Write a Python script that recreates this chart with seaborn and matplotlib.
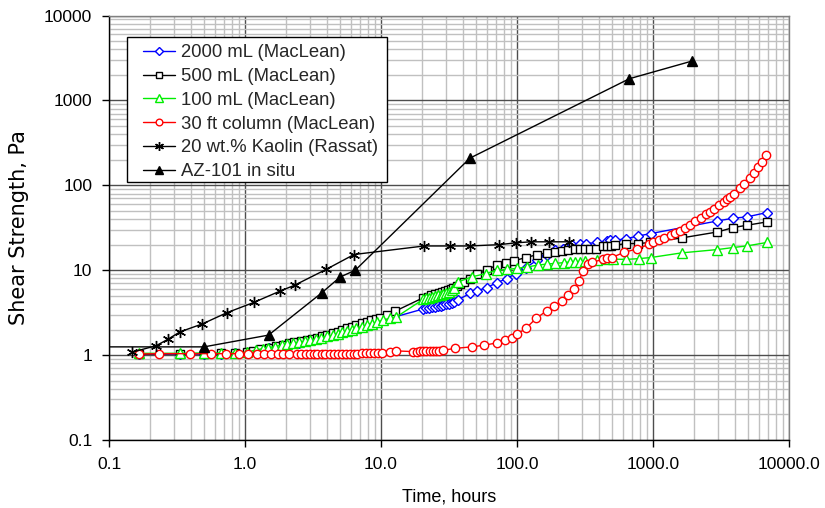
import matplotlib
matplotlib.use("Agg")
import matplotlib.pyplot as plt
import seaborn as sns
from matplotlib.patches import Rectangle
from matplotlib.ticker import LogLocator, NullFormatter

# 2000 mL (MacLean)
t_2000 = [0.167, 0.333, 0.5, 0.667, 0.84, 1.03, 1.2, 1.5, 1.8, 2.1, 2.5, 2.9, 3.3, 3.8, 4.3,
          4.9, 5.5, 6.2, 7.0, 7.8, 8.7, 9.8, 11.0, 12.5, 20.5, 21.6, 22.7, 23.8, 25.0, 26.2,
          27.5, 28.8, 30.2, 31.6, 33.1, 34.7, 37.0, 45.1, 50.6, 59.8, 71.0, 84.0, 97.5, 116,
          140, 165, 190, 218, 255, 290, 322, 385, 457, 485, 526, 633, 780, 962, 2972, 3894,
          4885, 6855]
ss_2000 = [1.03, 1.03, 1.03, 1.04, 1.05, 1.07, 1.12, 1.2, 1.27, 1.33, 1.4, 1.47, 1.54, 1.62, 1.72,
           1.85, 1.95, 2.07, 2.2, 2.33, 2.45, 2.58, 2.7, 2.8, 3.5, 3.55, 3.6, 3.65, 3.7, 3.76,
           3.82, 3.88, 3.95, 4.02, 4.1, 4.2, 4.5, 5.32, 5.7, 6.25, 7.1, 7.97, 9.14, 10.7,
           13.1, 15.3, 17.2, 18.0, 19.7, 20.2, 20.6, 21.2, 22.0, 22.5, 22.5, 23.5, 25.3, 27.0, 38.0, 41.0,
           42.4, 47.7]

# 500 mL (MacLean)
t_500 = [0.167, 0.333, 0.5, 0.667, 0.84, 1.03, 1.15, 1.3, 1.5, 1.7, 1.9, 2.1, 2.3, 2.6, 2.85,
         3.1, 3.4, 3.7, 4.0, 4.4, 4.8, 5.2, 5.6, 6.1, 6.6, 7.2, 7.85, 8.5, 9.2, 9.84, 11.0, 12.7,
         20.5, 22.0, 23.5, 25.0, 26.5, 28.0, 29.5, 31.0, 32.5, 34.0, 36.0, 38.0, 41.0, 45.1,
         50.6, 59.8, 71.0, 83.0, 95.1, 116, 140, 165, 190, 215, 238, 267, 290, 316, 344, 381,
         431, 462, 489, 526, 633, 780, 950, 1626, 2972, 3894, 4885, 6855]
ss_500 = [1.03, 1.04, 1.04, 1.05, 1.06, 1.08, 1.12, 1.17, 1.22, 1.27, 1.32, 1.37, 1.41, 1.46, 1.51,
          1.56, 1.61, 1.66, 1.72, 1.8, 1.88, 1.97, 2.06, 2.16, 2.26, 2.36, 2.47, 2.56, 2.64, 2.70, 2.95, 3.29,
          4.75, 4.9, 5.05, 5.2, 5.35, 5.5, 5.65, 5.8, 5.95, 6.15, 6.5, 6.9, 7.3, 7.9,
          8.9, 10.0, 11.5, 12.2, 12.9, 14.1, 15.2, 16.0, 16.3, 16.7, 17.2, 17.8, 17.8, 17.8, 18.0, 18.0,
          19.2, 19.2, 19.2, 19.7, 20.6, 20.6, 21.2, 24.0, 28.2, 31.8, 33.8, 37.0]

# 100 mL (MacLean)
t_100 = [0.167, 0.333, 0.5, 0.667, 0.84, 1.03, 1.2, 1.35, 1.48, 1.65, 1.86, 2.05, 2.25, 2.5, 2.75,
         3.0, 3.3, 3.6, 4.0, 4.4, 4.8, 5.2, 5.6, 6.1, 6.6, 7.2, 7.85, 8.6, 9.4, 10.4, 11.6, 13.0,
         20.5, 21.6, 22.7, 23.8, 25.0, 26.2, 27.5, 28.8, 30.2, 31.6, 33.1, 34.7, 37.0, 46.4,
         59.1, 71.0, 84.9, 99.5, 117.8, 143.5, 165, 190, 222, 245, 267, 290, 316, 385, 457, 511,
         633, 793, 962, 1626, 2972, 3894, 4885, 6855]
ss_100 = [1.05, 1.05, 1.06, 1.06, 1.06, 1.08, 1.15, 1.19, 1.22, 1.26, 1.31, 1.34, 1.38, 1.42, 1.46,
          1.5, 1.55, 1.6, 1.66, 1.72, 1.79, 1.85, 1.9, 1.98, 2.06, 2.16, 2.25, 2.34, 2.45, 2.58, 2.7, 2.82,
          4.55, 4.65, 4.75, 4.85, 4.95, 5.05, 5.15, 5.3, 5.45, 5.6, 5.8, 6.1, 7.28, 8.34,
          9.14, 10.0, 10.2, 10.5, 10.9, 11.5, 11.8, 12.0, 12.3, 12.5, 12.5, 12.5, 12.8, 13.1, 13.5, 13.5,
          13.4, 13.7, 14.1, 16.0, 17.5, 18.5, 19.3, 21.2]

# 30 ft column (MacLean)
t_30ft = [0.167, 0.234, 0.394, 0.56, 0.725, 0.9, 1.05, 1.22, 1.38, 1.55, 1.75, 1.9, 2.1, 2.4, 2.6,
          2.8, 3.0, 3.2, 3.4, 3.7, 3.9, 4.2, 4.5, 4.8, 5.2, 5.5, 5.9, 6.3, 6.7, 7.2, 7.8, 8.3,
          8.9, 9.5, 10.1, 11.6, 13.0, 17.2, 18.3, 19.4, 20.5, 21.6, 22.8, 24.0, 25.3, 26.8, 28.6,
          35, 46.4, 57.5, 71, 81.6, 92, 99.5, 116, 138, 165, 188, 213, 238, 262, 284, 307, 331,
          354, 431, 462, 497, 612, 759, 940, 1005, 1100, 1200, 1350, 1460, 1580, 1720, 1870,
          2050, 2250, 2440, 2624, 2820, 3060, 3300, 3500, 3681, 3950, 4365, 4700, 5164, 5500,
          5916, 6300, 6776]
ss_30ft = [1.03, 1.04, 1.04, 1.04, 1.04, 1.04, 1.04, 1.04, 1.04, 1.04, 1.04, 1.04, 1.04, 1.04, 1.04,
           1.04, 1.04, 1.04, 1.04, 1.04, 1.04, 1.04, 1.04, 1.04, 1.04, 1.04, 1.04, 1.04, 1.04, 1.05, 1.05, 1.05,
           1.05, 1.05, 1.06, 1.09, 1.12, 1.1, 1.1, 1.11, 1.11, 1.11, 1.12, 1.12, 1.13, 1.13, 1.14,
           1.2, 1.25, 1.31, 1.39, 1.5, 1.6, 1.75, 2.06, 2.7, 3.32, 3.77, 4.35, 5.12, 6.03, 7.49, 9.7, 11.7,
           12.4, 13.4, 13.9, 14.1, 16.2, 17.8, 20.2, 21.5, 22.6, 23.8, 25.8, 27.4, 29.0, 31.5, 34.2,
           37.5, 41.5, 45.5, 48.7, 53.0, 58.0, 63.5, 68.5, 72.5, 80, 92, 103, 121, 138,
           163, 190, 225]

# 20 wt.% Kaolin (Rassat)
t_kaolin = [0.147, 0.222, 0.27, 0.333, 0.486, 0.733, 1.16, 1.82, 2.32, 3.94, 6.33,
            20.8, 32.2, 45.1, 74.1, 97.8, 126.7, 172, 243]
ss_kaolin = [1.08, 1.29, 1.53, 1.88, 2.33, 3.15, 4.17, 5.7, 6.66, 10.2, 15.3,
             19.3, 19.3, 19.3, 20.0, 21.0, 21.6, 21.6, 21.6]

# AZ-101 in situ (first point lies left of the axis)
t_az101 = [0.05, 0.5, 1.49, 3.66, 5.0, 6.47, 45.1, 670, 1926]
ss_az101 = [1.25, 1.25, 1.72, 5.4, 8.3, 10.0, 209, 1800, 2900]

x_ticks = [0.1, 1, 10, 100, 1000, 10000]
x_ticklabels = ["0.1", "1.0", "10.0", "100.0", "1000.0", "10000.0"]
y_ticks = [0.1, 1, 10, 100, 1000, 10000]
y_ticklabels = ["0.1", "1", "10", "100", "1000", "10000"]

sns.set_theme(style="white")
plt.rcParams["font.family"] = ["Liberation Sans", "DejaVu Sans"]

fig = plt.figure(figsize=(8.25, 5.08), dpi=100)
ax = fig.add_axes([109 / 825, 1 - 440 / 508, 680 / 825, 424.5 / 508])
ax.set_xscale("log")
ax.set_yscale("log")

series = [
    (t_2000, ss_2000, "2000 mL (MacLean)", "#0000ff", "D", 5.0, "white"),
    (t_500, ss_500, "500 mL (MacLean)", "black", "s", 6.0, "white"),
    (t_100, ss_100, "100 mL (MacLean)", "#00ee00", "^", 6.5, "white"),
    (t_30ft, ss_30ft, "30 ft column (MacLean)", "#ff0000", "o", 6.0, "white"),
    (t_kaolin, ss_kaolin, "20 wt.% Kaolin (Rassat)", "black", (6, 2, 0), 8.0, "black"),
    (t_az101, ss_az101, "AZ-101 in situ", "black", "^", 7.0, "black"),
]
for t, s, name, col, mk, size, face in series:
    sns.lineplot(x=t, y=s, ax=ax, sort=False, estimator=None, errorbar=None,
                 color=col, linewidth=1.0, marker=mk, markersize=size,
                 markerfacecolor=face, markeredgecolor=col, markeredgewidth=1.0,
                 label=name, legend=False)

ax.set_xlim(0.1, 10000)
ax.set_ylim(0.1, 10000)
ax.set_xticks(x_ticks)
ax.set_xticklabels(x_ticklabels)
ax.set_yticks(y_ticks)
ax.set_yticklabels(y_ticklabels)
ax.xaxis.set_minor_locator(LogLocator(base=10, subs=range(2, 10), numticks=20))
ax.yaxis.set_minor_locator(LogLocator(base=10, subs=range(2, 10), numticks=20))
ax.xaxis.set_minor_formatter(NullFormatter())
ax.yaxis.set_minor_formatter(NullFormatter())

ax.grid(which="major", color="#4d4d4d", linewidth=1.0)
ax.grid(which="minor", color="#c0c0c0", linewidth=1.0)
ax.set_axisbelow(True)
ax.tick_params(which="major", bottom=True, left=True, direction="out", length=5, width=1,
               color="black", labelsize=12.5, pad=7, labelcolor="black")
ax.tick_params(which="minor", length=0)
for side in ["left", "bottom"]:
    ax.spines[side].set_color("black")
    ax.spines[side].set_linewidth(1.0)
for side in ["top", "right"]:
    ax.spines[side].set_color("#808080")
    ax.spines[side].set_linewidth(1.0)

ax.set_xlabel("Time, hours", fontsize=13, labelpad=12, color="black")
ax.set_ylabel("Shear Strength, Pa", fontsize=15, labelpad=11, color="black",
              family=["DejaVu Sans"])

# legend box
ax.add_patch(Rectangle((0.026, 0.607), 0.383, 0.343, transform=ax.transAxes,
                       facecolor="white", edgecolor="black", linewidth=1.0, zorder=4))
handles, labels = ax.get_legend_handles_labels()
leg = ax.legend(handles, labels, loc="upper left", bbox_to_anchor=(0.050, 0.932),
                frameon=False, borderpad=0, borderaxespad=0, handlelength=1.75,
                handletextpad=0.3, labelspacing=0.365, fontsize=13.3, markerscale=0.8)
leg.set_zorder(5)

fig.savefig("out.png", dpi=100)
